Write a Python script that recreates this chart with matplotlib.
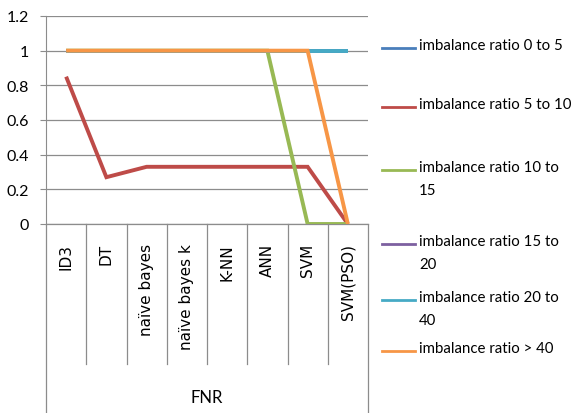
import matplotlib
matplotlib.use("Agg")
import matplotlib.pyplot as plt
import numpy as np

plt.rcParams['font.family'] = ['Lato', 'DejaVu Sans']

categories = ["ID3", "DT", "naïve bayes", "naïve bayes k", "K-NN", "ANN", "SVM", "SVM(PSO)"]
group_label = "FNR"

series_labels = ["imbalance ratio 0 to 5", "imbalance ratio 5 to 10", "imbalance ratio 10 to\n15",
                 "imbalance ratio 15 to\n20", "imbalance ratio 20 to\n40", "imbalance ratio > 40"]
ratio_0_5 = [1, 1, 1, 1, 1, 1, 1, 1]
ratio_5_10 = [0.85, 0.27, 0.33, 0.33, 0.33, 0.33, 0.33, 0]
ratio_10_15 = [1, 1, 1, 1, 1, 1, 0, 0]
ratio_15_20 = [1, 1, 1, 1, 1, 1, 1, 1]
ratio_20_40 = [1, 1, 1, 1, 1, 1, 1, 1]
ratio_gt_40 = [1, 1, 1, 1, 1, 1, 1, 0]
series = [ratio_0_5, ratio_5_10, ratio_10_15, ratio_15_20, ratio_20_40, ratio_gt_40]
colors = ["#4A7EBB", "#BE4B48", "#98B954", "#7D60A0", "#46AAC5", "#F79646"]

W, H = 574, 414
fig = plt.figure(figsize=(W / 100, H / 100), dpi=100)
ax = fig.add_axes([46 / W, 1 - 225 / H, (368 - 46) / W, (225 - 17) / H])

x = np.arange(len(categories))
for vals, c in zip(series, colors):
    ax.plot(x, vals, color=c, lw=2.8, solid_capstyle='butt', solid_joinstyle='miter', zorder=3)

ax.set_xlim(-0.5, len(categories) - 0.5)
ax.set_ylim(0, 1.2)
ax.set_yticks(np.arange(0, 1.21, 0.2))
ax.set_yticklabels(["0", "0.2", "0.4", "0.6", "0.8", "1", "1.2"], fontsize=11.5)
ax.yaxis.grid(True, color="#8c8c8c", lw=0.9)
ax.set_axisbelow(True)
for s in ["top", "right", "bottom"]:
    ax.spines[s].set_visible(False)
ax.spines["left"].set_color("#8c8c8c")
ax.tick_params(axis='y', length=4.5, color="#8c8c8c", pad=8)
ax.set_xticks([])

# multi-level category axis
tr = ax.get_xaxis_transform()
inner_bottom = (225 - 365) / (225 - 17)
outer_bottom = (225 - 414) / (225 - 17)
for i, b in enumerate(np.arange(-0.5, len(categories), 1.0)):
    yb = outer_bottom if i in (0, len(categories)) else inner_bottom
    ax.plot([b, b], [0, yb], transform=tr, color="#8c8c8c", lw=0.9, clip_on=False)
ax.plot([-0.5, len(categories) - 0.5], [0, 0], transform=tr, color="#8c8c8c", lw=0.9, clip_on=False)
label_top = (225 - 244) / (225 - 17)
for xi, name in zip(x, categories):
    ax.text(xi, label_top, name, transform=tr, rotation=90, ha='center', va='top',
            fontsize=11, family='DejaVu Sans')
ax.text((len(categories) - 1) / 2, (225 - 398) / (225 - 17), group_label, transform=tr,
        ha='center', va='center', fontsize=12)

# legend
legend_y = [49, 108, 171, 245, 301, 352]
for lab, c, ly in zip(series_labels, colors, legend_y):
    yf = 1 - ly / H
    fig.add_artist(plt.Line2D([382 / W, 415 / W], [yf, yf], color=c, lw=2))
    fig.text(419 / W, yf + 10 / H, lab, ha='left', va='top', fontsize=10.8, linespacing=1.85)

fig.savefig("out.png", dpi=100)
